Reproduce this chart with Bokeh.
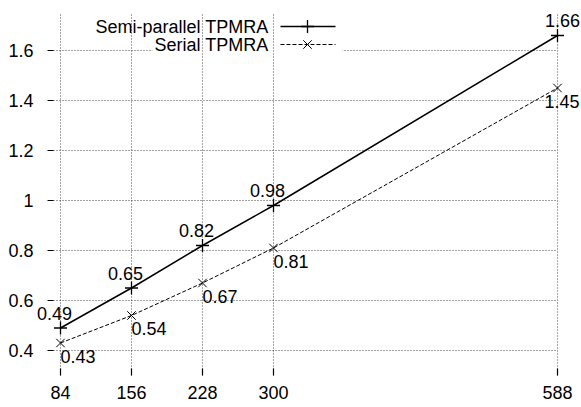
from bokeh.plotting import figure
from bokeh.models import Range1d, FixedTicker, BoxAnnotation, Label, CustomJSTickFormatter
from bokeh.embed import file_html
from bokeh.resources import INLINE

# ---- data ----
threads = [84, 156, 228, 300, 588]
semi_parallel = [0.49, 0.65, 0.82, 0.98, 1.66]
serial = [0.43, 0.54, 0.67, 0.81, 1.45]
y_ticks = [0.4, 0.6, 0.8, 1.0, 1.2, 1.4, 1.6]
series_names = ["Semi-parallel TPMRA", "Serial TPMRA"]

# ---- layout ----
W, H = 581, 407
FL, FR, FT, FB = 33, 581, 12, 375
PXX = 497.0 / 504.0          # px per x unit
X0 = 84 - (60 - FL) / PXX
X1 = X0 + (FR - FL) / PXX
Y0, Y1 = 0.3, 1.752
FONT = "Liberation Sans"

def sx(px):
    return X0 + (px - FL) * (X1 - X0) / (FR - FL)

def sy(py):
    return Y0 + (FB - py) * (Y1 - Y0) / (FB - FT)

p = figure(width=W, height=H, x_range=Range1d(X0, X1), y_range=Range1d(Y0, Y1),
           output_backend="svg", toolbar_location=None,
           min_border_left=FL, min_border_right=W - FR,
           min_border_top=FT, min_border_bottom=H - FB)
p.outline_line_color = None
p.xgrid.visible = False
p.ygrid.visible = False
p.background_fill_color = "white"
p.border_fill_color = "white"

# axes
p.xaxis.ticker = FixedTicker(ticks=threads)
p.yaxis.ticker = FixedTicker(ticks=y_ticks)
p.yaxis.formatter = CustomJSTickFormatter(code="return tick.toFixed(1).replace(/\\.0$/, '');")
for ax in (p.xaxis[0], p.yaxis[0]):
    ax.axis_line_color = None
    ax.major_tick_out = 0
    ax.minor_tick_in = 0
    ax.minor_tick_out = 0
    ax.major_tick_line_color = "black"
    ax.major_tick_line_width = 1.2
    ax.major_label_text_font = FONT
    ax.major_label_text_font_size = "18px"
    ax.major_label_text_color = "black"
p.xaxis.major_tick_in = 7
p.yaxis.major_tick_in = 20
p.yaxis.major_tick_line_dash = "0 14 6 100"
p.xaxis.major_label_standoff = 10
p.yaxis.major_label_standoff = 0

# grid (dotted)
grid_style = dict(line_color="#444444", line_width=1, line_dash="1 2")
p.segment(x0=[sx(53)] * len(y_ticks), y0=y_ticks, x1=[threads[-1]] * len(y_ticks), y1=y_ticks,
          level="image", **grid_style)
p.segment(x0=threads, y0=[Y0] * len(threads), x1=threads, y1=[Y1] * len(threads), **grid_style)

# opaque key background covering horizontal grid
p.add_layout(BoxAnnotation(left=sx(152), right=sx(342), bottom=sy(51), top=sy(36),
                           fill_color="white", fill_alpha=1.0, line_color=None, level="underlay"))

# series
p.line(threads, semi_parallel, line_color="black", line_width=1.5)
p.scatter(threads, semi_parallel, marker="cross", size=13, line_color="black", line_width=1.3)
p.line(threads, serial, line_color="black", line_width=1, line_dash="4 2")
p.scatter(threads, serial, marker="x", size=12, line_color="black", line_width=1)

# value labels
n = len(threads)
semi_dx = [-6] * (n - 1) + [5]
serial_dx = [0] * (n - 1) + [-13]
for i in range(n):
    p.add_layout(Label(x=threads[i], y=semi_parallel[i], text=f"{semi_parallel[i]:.2f}",
                       x_offset=semi_dx[i], y_offset=15, text_align="center",
                       text_baseline="middle", text_font=FONT, text_font_size="18px",
                       text_color="black", level="overlay"))
    p.add_layout(Label(x=threads[i], y=serial[i], text=f"{serial[i]:.2f}",
                       x_offset=serial_dx[i], y_offset=-13, text_align="left",
                       text_baseline="middle", text_font=FONT, text_font_size="18px",
                       text_color="black", level="overlay"))

# key
key_rows = [26, 44]
for name, row in zip(series_names, key_rows):
    p.add_layout(Label(x=sx(268), y=sy(row), text=name, text_align="right",
                       text_baseline="middle", text_font=FONT, text_font_size="18px",
                       text_color="black"))
p.line([sx(280), sx(335)], [sy(key_rows[0])] * 2, line_color="black", line_width=1.5)
p.scatter([sx(307)], [sy(key_rows[0])], marker="cross", size=13, line_color="black", line_width=1.3)
p.line([sx(280), sx(335)], [sy(key_rows[1])] * 2, line_color="black", line_width=1, line_dash="4 2")
p.scatter([sx(307)], [sy(key_rows[1])], marker="x", size=12, line_color="black", line_width=1)

open("out.html", "w").write(file_html(p, INLINE))
